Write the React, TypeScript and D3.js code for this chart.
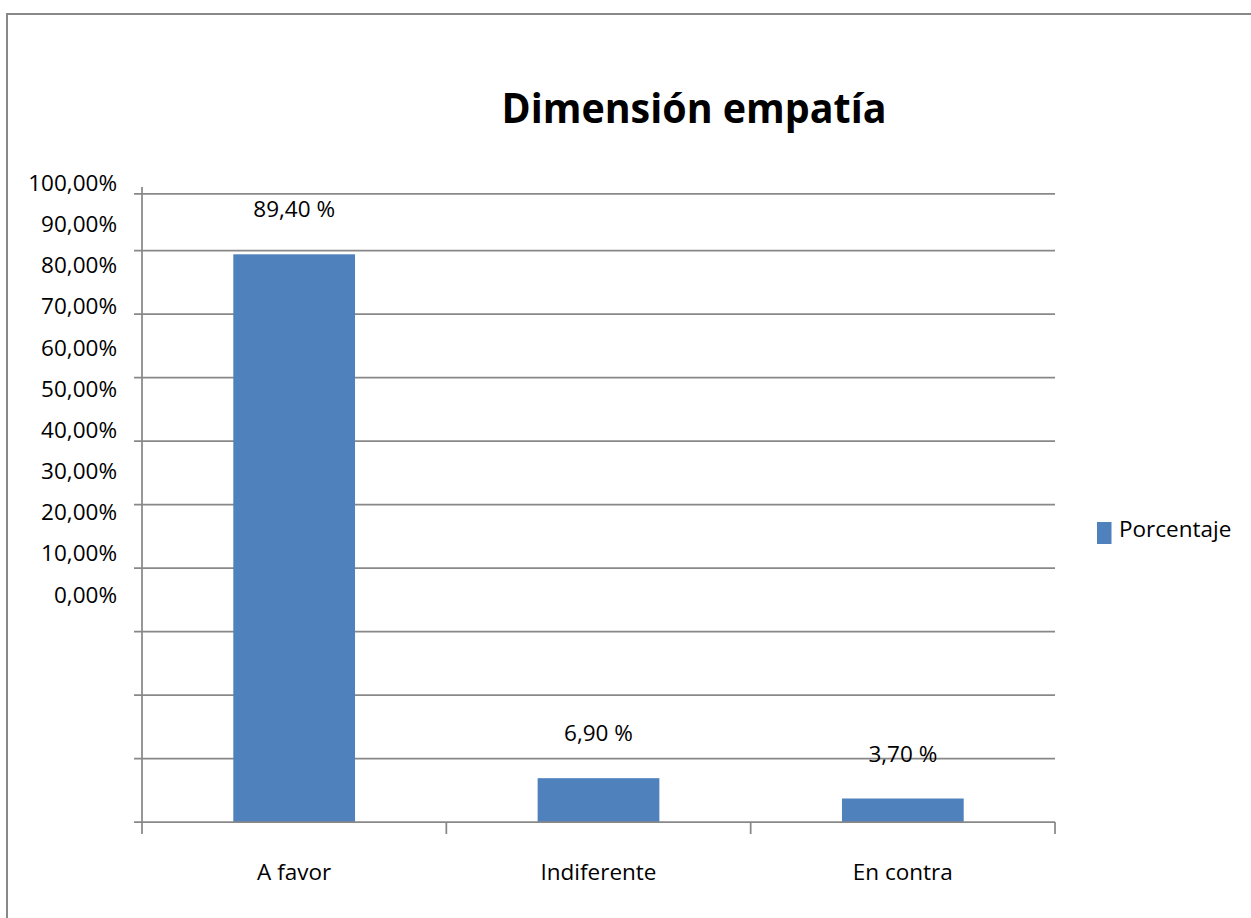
import React from "react";
import * as d3 from "d3";

const categories = ["A favor", "Indiferente", "En contra"];
const values = [89.4, 6.9, 3.7];
const valueLabels = ["89,40 %", "6,90 %", "3,70 %"];
const tickValues = [0, 10, 20, 30, 40, 50, 60, 70, 80, 90, 100];
const tickLabels = ["0,00%", "10,00%", "20,00%", "30,00%", "40,00%", "50,00%", "60,00%", "70,00%", "80,00%", "90,00%", "100,00%"];
const gridValues = [10, 20, 30, 40, 50, 60, 70, 80, 90, 98.9];
const title = "Dimensión empatía";
const seriesName = "Porcentaje";

const W = 1251;
const H = 918;
const FONT = "'Open Sans', 'Liberation Sans', Arial, sans-serif";
const GRID = "#888888";
const BAR = "#4f81bd";

export default function App() {
  const x = d3.scaleBand<string>().domain(categories).range([142, 1055]).paddingInner(0.6).paddingOuter(0.3);
  const y = d3.scaleLinear().domain([0, 100]).range([822, 187]);
  // tick labels are drawn on their own (offset) scale, as in the original picture
  const yLabel = d3.scaleLinear().domain([0, 100]).range([602.5, 191]);
  const step = x.step();
  const edges = [0, 1, 2, 3].map((i) => 142 + i * step);

  return (
    <svg width={W} height={H} style={{ position: "absolute", left: 0, top: 0 }} fontFamily={FONT}>
      <rect x={7} y={14} width={W + 20} height={H + 20} fill="white" stroke={GRID} strokeWidth={2} />
      <text x={694} y={123} textAnchor="middle" fontSize={42} fontWeight="bold" fill="#000" textLength={385} lengthAdjust="spacingAndGlyphs">
        {title}
      </text>
      {gridValues.map((v) => (
        <line key={v} x1={134} x2={1055} y1={y(v)} y2={y(v)} stroke={GRID} strokeWidth={1.75} />
      ))}
      {categories.map((c, i) => (
        <rect key={c} x={x(c)} y={y(values[i])} width={x.bandwidth()} height={y(0) - y(values[i])} fill={BAR} />
      ))}
      <line x1={142} x2={142} y1={y(100)} y2={y(0) + 12} stroke={GRID} strokeWidth={1.75} />
      <line x1={134} x2={1055} y1={y(0)} y2={y(0)} stroke={GRID} strokeWidth={1.75} />
      {edges.slice(1).map((e, i) => (
        <line key={i} x1={e} x2={e} y1={y(0)} y2={y(0) + 12} stroke={GRID} strokeWidth={1.75} />
      ))}
      {tickValues.map((v, i) => (
        <text key={v} x={117} y={yLabel(v)} textAnchor="end" fontSize={22.5} fill="#000">
          {tickLabels[i]}
        </text>
      ))}
      {categories.map((c, i) => (
        <text key={c} x={(x(c) as number) + x.bandwidth() / 2} y={y(values[i]) - 37} textAnchor="middle" fontSize={22.5} fill="#000">
          {valueLabels[i]}
        </text>
      ))}
      {categories.map((c) => (
        <text key={c} x={(x(c) as number) + x.bandwidth() / 2} y={880} textAnchor="middle" fontSize={22.5} fill="#000">
          {c}
        </text>
      ))}
      <rect x={1097} y={522} width={14.5} height={22} fill={BAR} />
      <text x={1119} y={537} fontSize={22.5} fill="#000">
        {seriesName}
      </text>
    </svg>
  );
}
